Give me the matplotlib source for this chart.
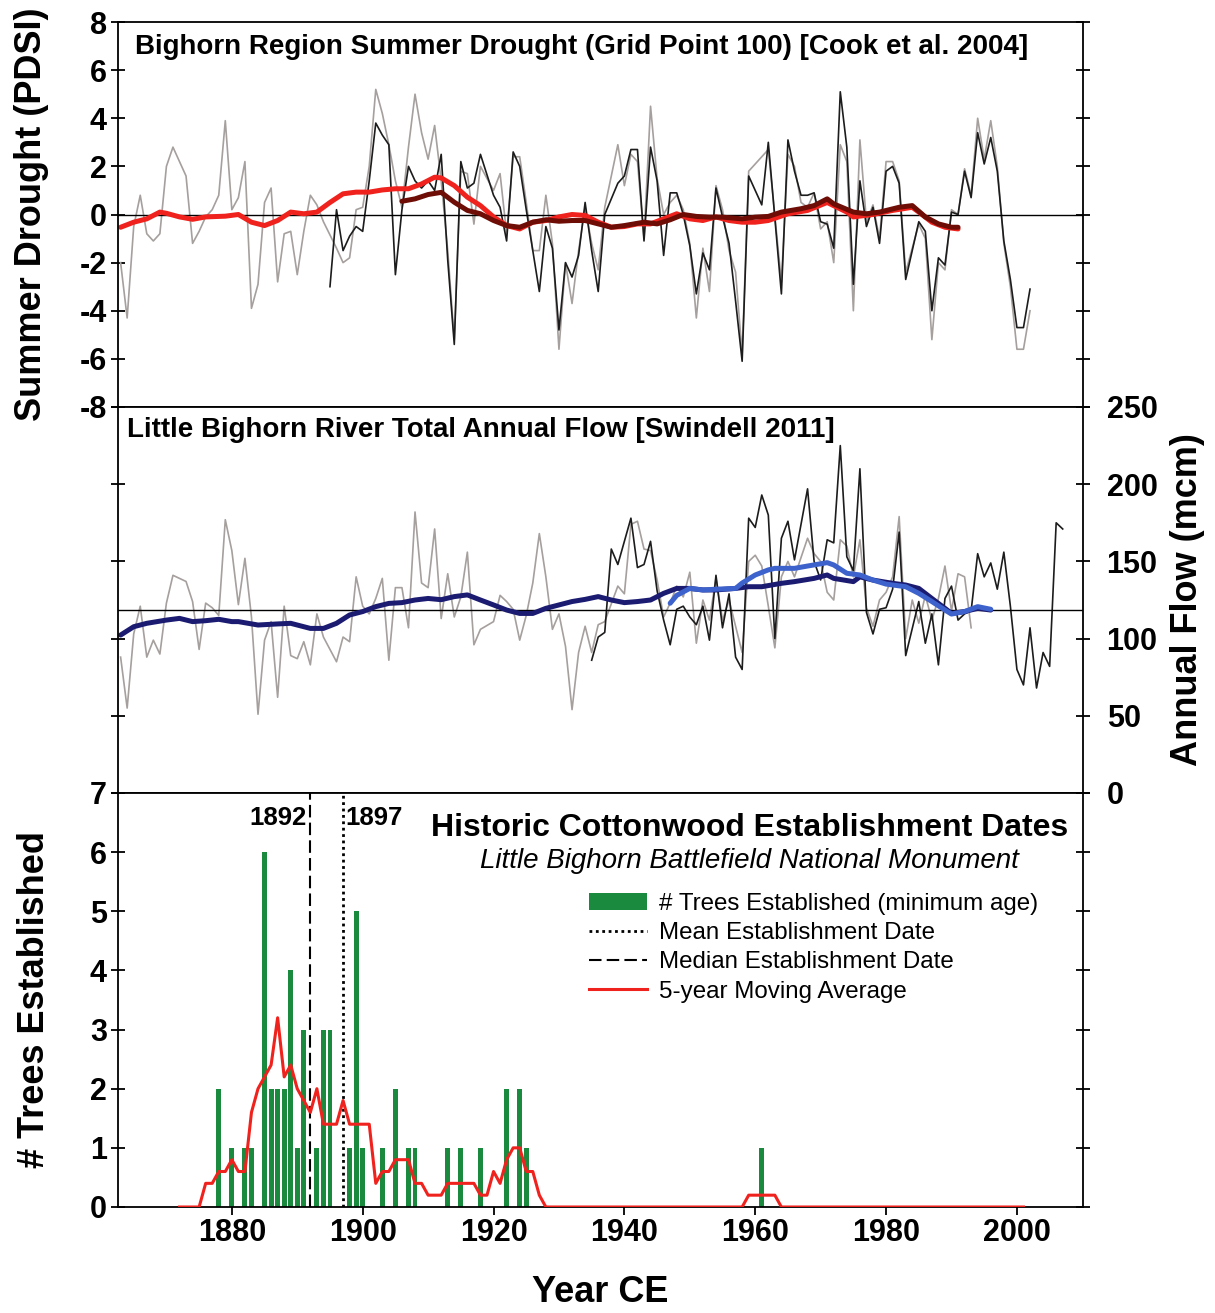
import numpy as np
import pandas as pd
import matplotlib
matplotlib.use('Agg')
from matplotlib import pyplot as plt
from matplotlib.patches import Patch
from matplotlib.lines import Line2D

plt.rcParams['font.family'] = ['Liberation Sans', 'DejaVu Sans']
plt.rcParams['axes.unicode_minus'] = False

# ---- top panel: Bighorn summer drought (PDSI) ----
pdsi_gray_years = np.r_[1863:1872, 1873:1895, 1896:1919, 1920:1938, 1939:1960,
                        1961:1963, 1964:1984, 1985:2003]
pdsi_gray = [-2.0, -4.3, -0.5, 0.8, -0.8, -1.1, -0.8, 2.0, 2.8,
             1.6, -1.2, -0.7, -0.1, 0.2, 0.8, 3.9, 0.2, 0.7, 2.2,
             -3.9, -2.9, 0.5, 1.1, -2.8, -0.8, -0.7, -2.5, -0.7, 0.8,
             0.4, -0.3,
             -1.4, -2.0, -1.8, 0.2, 0.3, 2.0, 5.2, 4.2, 2.9, 1.4,
             0.3, 2.8, 5.0, 3.4, 2.3, 3.7, 1.4,
             -1.5, -5.2, 1.8, 1.7, -0.4, 2.0,
             1.0, 1.7, -0.8, 2.4, 2.4, 0.5, -1.5, -1.5, 0.8, -1.2,
             -5.6, -2.0, -3.7, -1.5, 0.3, -1.2, -2.3, 0.3,
             2.9, 1.2, 2.5, 2.2, -1.0, 4.5, 1.5, 0.0, 0.5, 0.8,
             0.2, -1.2, -4.3, -1.4, -3.2, 1.2, 0.2, -1.5, -2.4, -5.8, 1.8,
             2.4, 2.7,
             -2.8, 2.5, 2.0, 0.5, 0.3, 0.9, -0.6, -0.3, -2.0, 2.9,
             2.2, -4.0, 3.1, -0.3, 0.4, -1.0, 2.2, 2.2, 1.4, -2.4,
             -0.4, -1.0, -5.2, -2.0, -2.3, 0.2, 0.0, 1.9, 0.8, 4.0,
             2.3, 3.9, 2.0, -1.2, -3.0, -5.6, -5.6, -4.0]

pdsi_black_years = np.r_[1895:1919, 1920:1938, 1939:1960, 1961:1963, 1964:1984, 1985:2003]
pdsi_black = [-3.0, 0.2, -1.5, -0.9, -0.5, -0.7, 1.4, 3.8, 3.3, 2.9,
              -2.5, 0.2, 2.0, 1.4, 1.1, 1.4, 1.0, 2.5, -1.9, -5.4,
              2.2, 1.1, 1.3, 2.5,
              0.8, 0.3, -1.1, 2.6, 2.0, 0.2, -1.5, -3.2, -0.5, -1.4,
              -4.8, -2.0, -2.6, -1.7, 0.5, -1.5, -3.2, 0.0,
              1.3, 1.6, 2.7, 2.7, -1.1, 2.8, 1.4, -1.7, 0.9, 0.9,
              0.0, -1.3, -3.3, -1.6, -2.3, 1.1, -0.1, -1.2, -3.6, -6.1, 1.6,
              0.4, 3.0,
              -3.3, 3.1, 1.8, 0.8, 0.8, 0.9, -0.3, -0.4, -1.4, 5.1,
              2.8, -2.9, 1.4, -0.5, 0.3, -1.2, 1.8, 2.0, 1.3, -2.7,
              -0.3, -0.7, -4.0, -1.8, -2.1, 0.1, 0.0, 1.8, 0.7, 3.4,
              2.1, 3.2, 1.8, -1.1, -2.7, -4.7, -4.7, -3.1]

pdsi_gray_smooth_years = [1863, 1865, 1867, 1869, 1870, 1872, 1874, 1876, 1879, 1881,
                          1883, 1885, 1887, 1889, 1891, 1893, 1895, 1897, 1899, 1901,
                          1903, 1905, 1907, 1909, 1911, 1912, 1914, 1916, 1918, 1920,
                          1922, 1924, 1926, 1928, 1930, 1932, 1934, 1936, 1938, 1940,
                          1942, 1944, 1946, 1948, 1950, 1952, 1954, 1956, 1958, 1960,
                          1962, 1965, 1968, 1971, 1974, 1975, 1978, 1981, 1984, 1985,
                          1987, 1989, 1991]
pdsi_gray_smooth = [-0.53, -0.32, -0.18, 0.1, 0.05, -0.1, -0.2, -0.1, -0.07, 0.0,
                    -0.32, -0.46, -0.25, 0.1, 0.03, 0.1, 0.5, 0.86, 0.93, 0.93,
                    1.02, 1.07, 1.07, 1.27, 1.55, 1.52, 1.2, 0.72, 0.37, -0.1,
                    -0.46, -0.6, -0.32, -0.25, -0.1, 0.0, -0.04, -0.32, -0.53, -0.5,
                    -0.39, -0.39, -0.18, 0.03, -0.18, -0.25, -0.1, -0.25, -0.32, -0.32,
                    -0.25, 0.03, 0.17, 0.5, 0.1, -0.1, 0.0, 0.17, 0.3, 0.1,
                    -0.32, -0.53, -0.6]

pdsi_black_smooth_years = [1906, 1908, 1910, 1912, 1914, 1916, 1918,
                           1920, 1922, 1924, 1926, 1928, 1930, 1932, 1934, 1936, 1938, 1940,
                           1943, 1945, 1947, 1949, 1951, 1953, 1955,
                           1958, 1960, 1962, 1964, 1967, 1969, 1971, 1972,
                           1975, 1977, 1979, 1982, 1984, 1986, 1988, 1990, 1991]
pdsi_black_smooth = [0.55, 0.65, 0.83, 0.92, 0.51, 0.17, 0.03,
                     -0.25, -0.46, -0.53, -0.32, -0.22, -0.28, -0.25, -0.25, -0.39, -0.53, -0.46,
                     -0.32, -0.39, -0.22, 0.0, -0.08, -0.11, -0.11,
                     -0.18, -0.11, -0.08, 0.1, 0.24, 0.37, 0.65, 0.44,
                     0.1, 0.03, 0.1, 0.3, 0.37, -0.1, -0.39, -0.53, -0.53]

# ---- middle panel: Little Bighorn River annual flow (mcm) ----
flow_gray_years = np.r_[1863:1872, 1873:1895, 1896:1919, 1920:1938, 1939:1967, 1968:1994]
flow_gray = [88, 55, 103, 121, 88, 99, 90, 123, 141,
             137, 124, 93, 123, 120, 115, 177, 157, 122, 152, 114, 51, 99, 111, 62,
             121, 89, 87, 98, 83, 116, 101,
             85, 101, 98, 140, 121, 116, 126, 139, 86, 133, 133, 107, 182, 136, 133,
             171, 113, 142, 114, 127, 156, 96, 106,
             111, 128, 124, 119, 99, 115, 136, 168, 140, 106, 116, 95, 54, 91, 108, 91,
             109, 111,
             134, 129, 174, 176, 158, 157, 138, 114, 123, 134,
             127, 143, 97, 125, 112, 139, 112, 125, 108, 91,
             150, 154, 147, 121, 94, 140, 150, 140,
             165, 155, 150, 130, 125, 164, 160, 140, 164, 120,
             108, 125, 130, 140, 179, 100, 125, 110, 128, 112,
             126, 147, 118, 142, 140, 107]

flow_black_years = np.r_[1935:1940, 1941:1967, 1968:1984, 1985:2008]
flow_black = [86, 101, 104, 158, 148,
              178, 146, 148, 163, 131, 112, 96, 119, 121, 114, 109, 121, 99, 141, 107,
              129, 88, 80, 178, 172, 193, 180, 100, 165, 176, 151,
              197, 150, 138, 164, 162, 225, 153, 144, 210, 117, 103, 119, 120, 132,
              169, 89,
              124, 97, 116, 83, 126, 134, 112, 116, 118, 155, 140, 149, 132, 156, 121,
              80, 70, 107, 68, 91, 82, 175, 171]

flow_gray_smooth_years = [1863, 1865, 1867, 1870, 1872, 1874, 1876, 1878, 1880, 1881,
                          1884, 1887, 1889, 1892, 1894, 1896, 1898, 1900, 1902, 1904,
                          1906, 1908, 1910, 1912, 1914, 1916, 1918, 1920, 1922, 1924,
                          1926, 1928, 1930, 1932, 1934, 1936, 1938, 1940, 1942, 1944,
                          1946, 1948, 1950, 1952, 1954, 1957, 1959, 1961, 1964, 1966,
                          1969, 1971, 1972, 1975, 1976, 1978, 1981, 1983, 1985, 1987,
                          1989, 1990, 1992, 1994, 1996]
flow_gray_smooth = [102.3, 107.7, 109.9, 112, 113.1, 111, 111.6, 112.5, 111, 111,
                    108.8, 109.5, 109.9, 106.6, 106.6, 109.9, 115.3, 117.5, 120.7, 122.8,
                    123.3, 125, 126, 125.2, 127.2, 128.3, 125, 121.8, 118.5, 116.3,
                    116.3, 119.6, 121.8, 124, 125.4, 127.2, 125, 123.3, 124, 125,
                    129.3, 132.5, 132.5, 131.5, 131.5, 132.5, 133.6, 133.6, 135.8, 136.9,
                    139, 141.2, 139, 136.9, 140, 137.9, 135.8, 134.7, 132.5, 126,
                    119.6, 116.3, 117.5, 119.6, 118.5]

flow_black_smooth_years = [1947, 1948, 1950, 1952, 1954, 1957, 1958, 1960, 1962, 1963,
                           1966, 1968, 1971, 1972, 1974, 1976, 1978, 1980, 1983, 1985,
                           1987, 1989, 1990, 1992, 1994, 1996]
flow_black_smooth = [122.9, 128, 132.5, 131.5, 132, 132.5, 136, 141.2, 144.5, 145.5,
                     145.5, 147, 149.2, 147.7, 142.3, 141.2, 137.9, 135.3, 133.6, 129.3,
                     124, 118.5, 115.9, 117.5, 120.7, 119]
flow_mean = 118.5

# ---- bottom panel: cottonwood establishment dates ----
est_years = [1878, 1880, 1882, 1883, 1885, 1886, 1887, 1888, 1889, 1890, 1891, 1893,
             1894, 1895, 1898, 1899, 1900, 1903, 1905, 1907, 1908, 1913, 1915, 1918,
             1922, 1924, 1925, 1961]
est_counts = [2, 1, 1, 1, 6, 2, 2, 2, 4, 1, 3, 1,
              3, 3, 1, 5, 1, 1, 2, 1, 1, 1, 1, 1,
              2, 2, 1, 1]
median_year = 1892
mean_year = 1897

# 5-year centred moving average of the yearly counts
counts = pd.Series(0.0, index=np.arange(1868, 2006))
counts.loc[est_years] = est_counts
moving_avg = counts.rolling(5, center=True).mean().loc[1872:2001]

gray = '#a59f9d'
ink = '#1c1c1c'
red = '#f0221d'
dark_red = '#6e0c06'
navy = '#1b1b72'
light_blue = '#3d62cc'
green = '#1a8a3e'

fig = plt.figure(figsize=(12.15, 13.13), dpi=100)
L, W = 118 / 1215, 965 / 1215
ax1 = fig.add_axes([L, 1 - 407 / 1313, W, 385 / 1313])
ax2 = fig.add_axes([L, 1 - 793 / 1313, W, 386 / 1313])
ax3 = fig.add_axes([L, 1 - 1207 / 1313, W, 414 / 1313])

for ax in (ax1, ax2, ax3):
    ax.set_xlim(1862.6, 2010.1)
    for s in ax.spines.values():
        s.set_linewidth(1.3)

# top panel
ax1.plot(pdsi_gray_years, pdsi_gray, color=gray, lw=1.2)
ax1.plot(pdsi_black_years, pdsi_black, color=ink, lw=1.2)
ax1.axhline(0, color='black', lw=1.0)
ax1.plot(pdsi_gray_smooth_years, pdsi_gray_smooth, color=red, lw=3.6, solid_capstyle='round')
ax1.plot(pdsi_black_smooth_years, pdsi_black_smooth, color=dark_red, lw=3.6, solid_capstyle='round')
ax1.set_ylim(-8, 8)
ticks = np.arange(-8, 9, 2)
ax1.set_yticks(ticks, labels=[str(t) for t in ticks], fontsize=22, fontweight='bold')
ax1.tick_params(axis='y', direction='inout', length=10, width=1.3, right=True, pad=3)
ax1.tick_params(axis='x', bottom=False, labelbottom=False)
ax1.set_ylabel('Summer Drought (PDSI)', fontsize=26, fontweight='bold')
ax1.yaxis.set_label_coords(-0.072, 0.5)
ax1.text(0.0176, 0.935, 'Bighorn Region Summer Drought (Grid Point 100) [Cook et al. 2004]',
         transform=ax1.transAxes, ha='left', va='center', fontsize=20, fontweight='bold')

# middle panel
ax2.plot(flow_gray_years, flow_gray, color=gray, lw=1.2)
ax2.plot(flow_black_years, flow_black, color=ink, lw=1.2)
ax2.axhline(flow_mean, color='black', lw=1.0)
ax2.plot(flow_gray_smooth_years, flow_gray_smooth, color=navy, lw=3.6, solid_capstyle='round')
ax2.plot(flow_black_smooth_years, flow_black_smooth, color=light_blue, lw=3.6, solid_capstyle='round')
ax2.set_ylim(0, 250)
ticks = np.arange(0, 251, 50)
ax2.yaxis.tick_right()
ax2.yaxis.set_label_position('right')
ax2.set_yticks(ticks, labels=[str(t) for t in ticks], fontsize=22, fontweight='bold')
ax2.tick_params(axis='y', direction='inout', length=10, width=1.3, left=True, right=True,
                labelleft=False, labelright=True, pad=12)
ax2.tick_params(axis='x', bottom=False, labelbottom=False)
ax2.set_ylabel('Annual Flow (mcm)', fontsize=26, fontweight='bold', rotation=90)
ax2.yaxis.set_label_coords(1.090, 0.5)
ax2.text(0.0093, 0.940, 'Little Bighorn River Total Annual Flow [Swindell 2011]',
         transform=ax2.transAxes, ha='left', va='center', fontsize=20, fontweight='bold')

# bottom panel
ax3.bar(est_years, est_counts, width=0.75, color=green, zorder=2)
ax3.axvline(median_year, color='black', lw=1.5, ls=(0, (6, 2.5)), zorder=3)
ax3.axvline(mean_year, color='black', lw=2.0, ls=(0, (1, 1.3)), zorder=3)
ax3.plot(moving_avg.index, moving_avg.values, color=red, lw=2.2, zorder=4)
ax3.set_ylim(0, 7)
ticks = np.arange(0, 8)
ax3.set_yticks(ticks, labels=[str(t) for t in ticks], fontsize=22, fontweight='bold')
ax3.tick_params(axis='y', direction='inout', length=10, width=1.3, right=True, pad=3)
xt = np.arange(1880, 2001, 20)
ax3.set_xticks(xt, labels=[str(t) for t in xt], fontsize=22, fontweight='bold')
ax3.tick_params(axis='x', direction='out', length=6, width=1.3, pad=2)
ax3.set_ylabel('# Trees Established', fontsize=26, fontweight='bold')
ax3.yaxis.set_label_coords(-0.068, 0.5)
ax3.set_xlabel('Year CE', fontsize=26, fontweight='bold')
ax3.xaxis.set_label_coords(0.5, -0.165)

ax3.text(median_year - 0.5, 6.58, str(median_year), ha='right', va='center',
         fontsize=18.5, fontweight='bold')
ax3.text(mean_year + 0.4, 6.58, str(mean_year), ha='left', va='center',
         fontsize=18.5, fontweight='bold')
ax3.text(0.9845, 0.9155, 'Historic Cottonwood Establishment Dates', transform=ax3.transAxes,
         ha='right', va='center', fontsize=23, fontweight='bold')
ax3.text(0.9337, 0.8357, 'Little Bighorn Battlefield National Monument', transform=ax3.transAxes,
         ha='right', va='center', fontsize=20, fontstyle='italic')

handles = [Patch(facecolor=green, edgecolor='none'),
           Line2D([], [], color='black', lw=2.0, ls=(0, (1, 1.3))),
           Line2D([], [], color='black', lw=1.5, ls=(0, (6, 2.5))),
           Line2D([], [], color=red, lw=2.2)]
labels = ['# Trees Established (minimum age)', 'Mean Establishment Date',
          'Median Establishment Date', '5-year Moving Average']
ax3.legend(handles, labels, loc='upper left', bbox_to_anchor=(0.478, 0.782), frameon=False,
           fontsize=17.4, handlelength=2.4, handletextpad=0.5, labelspacing=0.3,
           borderaxespad=0)

fig.savefig('out.png', dpi=100)
